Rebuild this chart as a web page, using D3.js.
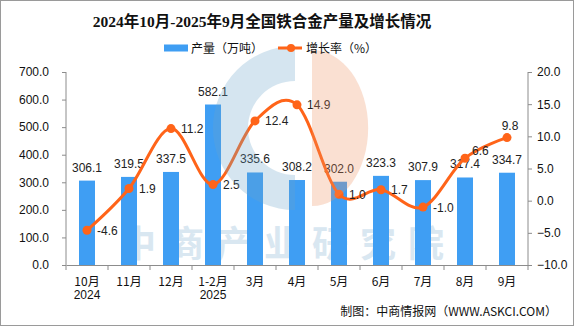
<!DOCTYPE html>
<html><head><meta charset="utf-8">
<script src="https://cdn.jsdelivr.net/npm/d3@7"></script>
<style>html,body{margin:0;padding:0;background:#fff;}svg{display:block;}</style>
</head><body>
<svg id="chart" width="575" height="326"></svg>
<script>
const categories = ["10月","11月","12月","1-2月","3月","4月","5月","6月","7月","8月","9月"];
const subLabels  = ["2024","","","2025","","","","","","",""];
const production = [306.1,319.5,337.5,582.1,335.6,308.2,302.0,323.3,307.9,317.4,334.7];
const growth     = [-4.6,1.9,11.2,2.5,12.4,14.9,1.0,1.7,-1.0,6.6,9.8];
const leftTicks  = [0,100,200,300,400,500,600,700];
const rightTicks = [-10,-5,0,5,10,15,20];
const growthLabelPlacement = ["right","right","right","right","right","right","right","right","right","upright","above"];

const svg = d3.select("#chart");
const W = 575, H = 326;
const m = {left:66, right:528, top:72, bottom:265};
const numFont = "'Liberation Sans','Noto Sans CJK SC',sans-serif";
const cjkFont = "'Noto Sans CJK SC','Liberation Sans',sans-serif";

svg.append("rect").attr("x",0.5).attr("y",0.5).attr("width",W-2).attr("height",H-1)
  .attr("fill","#fff").attr("stroke","#9a9a9a");

const xb = d3.scaleBand().domain(categories).range([m.left,m.right]);
const yL = d3.scaleLinear().domain([0,700]).range([m.bottom,m.top]);
const yR = d3.scaleLinear().domain([-10,20]).range([m.bottom,m.top]);

// title
svg.append("text").attr("x",262).attr("y",27).attr("text-anchor","middle")
  .attr("font-family","'Liberation Serif','Noto Sans CJK SC',serif").attr("font-weight","bold")
  .attr("font-size",15.5).attr("fill","#111")
  .text("2024年10月-2025年9月全国铁合金产量及增长情况");

// watermark text (behind)
svg.append("text").attr("x",120).attr("y",257)
  .attr("font-family",cjkFont).attr("font-weight","bold").attr("font-size",36)
  .attr("letter-spacing",12).attr("fill","#d9e7f1")
  .text("中商产业研究院");

// bars
svg.append("g").selectAll("rect").data(production).join("rect")
  .attr("x",(d,i)=>xb(categories[i])+xb.bandwidth()/2-8)
  .attr("width",16)
  .attr("y",d=>yL(d)).attr("height",d=>yL(0)-yL(d))
  .attr("fill","#3f9ef3");

// axes
const axisColor = "#8c8c8c";
const gL = svg.append("g").attr("transform",`translate(${m.left},0)`)
  .call(d3.axisLeft(yL).tickValues(leftTicks).tickSize(4).tickSizeOuter(0).tickFormat(d3.format(".1f")).tickPadding(13));
const gR = svg.append("g").attr("transform",`translate(${m.right},0)`)
  .call(d3.axisRight(yR).tickValues(rightTicks).tickSize(4).tickSizeOuter(0).tickFormat(d3.format(".1f")).tickPadding(5));
const gX = svg.append("g").attr("transform",`translate(0,${m.bottom})`)
  .call(d3.axisBottom(xb).tickValues([]).tickSizeOuter(0));
const bounds = categories.map(c=>xb(c)).concat([m.right]);
gX.selectAll("line.bt").data(bounds).join("line").attr("class","bt")
  .attr("x1",d=>d).attr("x2",d=>d).attr("y1",0).attr("y2",5).attr("stroke",axisColor);
[gL,gR,gX].forEach(g=>{
  g.selectAll(".domain").attr("stroke",axisColor);
  g.selectAll(".tick line").attr("stroke",axisColor);
  g.selectAll(".tick text").attr("font-family",numFont).attr("font-size",12).attr("fill","#111");
});
gR.select(".domain").attr("d",`M0,${m.top}V${m.bottom}`);
gL.select(".domain").attr("d",`M0,${m.top}V${m.bottom}`);

// x labels
const xl = svg.append("g");
xl.selectAll("text.c").data(categories).join("text").attr("class","c")
  .attr("x",d=>xb(d)+xb.bandwidth()/2).attr("y",286).attr("text-anchor","middle")
  .attr("font-family",cjkFont).attr("font-size",12).attr("fill","#111").text(d=>d);
xl.selectAll("text.s").data(subLabels).join("text").attr("class","s")
  .attr("x",(d,i)=>xb(categories[i])+xb.bandwidth()/2).attr("y",299).attr("text-anchor","middle")
  .attr("font-family",numFont).attr("font-size",12).attr("fill","#111").text(d=>d);

// bar labels
svg.append("g").selectAll("text").data(production).join("text")
  .attr("x",(d,i)=>xb(categories[i])+xb.bandwidth()/2).attr("y",d=>yL(d)-9)
  .attr("text-anchor","middle").attr("font-family",numFont).attr("font-size",12).attr("fill","#222")
  .text(d=>d.toFixed(1));

// line
const cx = i=>xb(categories[i])+xb.bandwidth()/2;
const line = d3.line().x((d,i)=>cx(i)).y(d=>yR(d)).curve(d3.curveCardinal.tension(0));
svg.append("path").datum(growth).attr("d",line).attr("fill","none")
  .attr("stroke","#ff6419").attr("stroke-width",3);
svg.append("g").selectAll("circle").data(growth).join("circle")
  .attr("cx",(d,i)=>cx(i)).attr("cy",d=>yR(d)).attr("r",4.5).attr("fill","#ff6419");

// growth labels
svg.append("g").selectAll("text").data(growth).join("text")
  .attr("x",(d,i)=>{const p=growthLabelPlacement[i];return p==="above"?cx(i)+3:cx(i)+(p==="upright"?7:10);})
  .attr("y",(d,i)=>{const p=growthLabelPlacement[i];return p==="above"?yR(d)-8:(p==="upright"?yR(d)-3.5:yR(d)+4.5);})
  .attr("text-anchor",(d,i)=>growthLabelPlacement[i]==="above"?"middle":"start")
  .attr("font-family",numFont).attr("font-size",12).attr("fill","#222")
  .text(d=>d.toFixed(1));

// watermark logo (semi-transparent, on top)
const wm = svg.append("g").attr("opacity",0.28);
wm.append("path").attr("transform","translate(295,128)")
  .attr("d",d3.arc().innerRadius(47).outerRadius(82).startAngle(Math.PI).endAngle(2*Math.PI)())
  .attr("fill","#6ca5ca");
wm.append("path").attr("transform","translate(312,128) scale(0.72,1)")
  .attr("d",d3.arc().innerRadius(0).outerRadius(78).startAngle(0).endAngle(Math.PI)())
  .attr("fill","#ee9162");

// legend
const lg = svg.append("g");
lg.append("rect").attr("x",164).attr("y",44.5).attr("width",24).attr("height",7).attr("fill","#3f9ef3");
lg.append("text").attr("x",191).attr("y",52.5).attr("font-family",cjkFont).attr("font-size",12).attr("fill","#111").text("产量（万吨）");
lg.append("line").attr("x1",278).attr("x2",302).attr("y1",48).attr("y2",48).attr("stroke","#ff6419").attr("stroke-width",3);
lg.append("circle").attr("cx",291).attr("cy",48).attr("r",4).attr("fill","#ff6419");
lg.append("text").attr("x",306).attr("y",52.5).attr("font-family",cjkFont).attr("font-size",12).attr("fill","#111").text("增长率（%）");

// footer
svg.append("text").attr("x",557).attr("y",316).attr("text-anchor","end")
  .attr("font-family",cjkFont).attr("font-size",12).attr("fill","#111")
  .text("制图：中商情报网（WWW.ASKCI.COM）");
</script>
</body></html>
